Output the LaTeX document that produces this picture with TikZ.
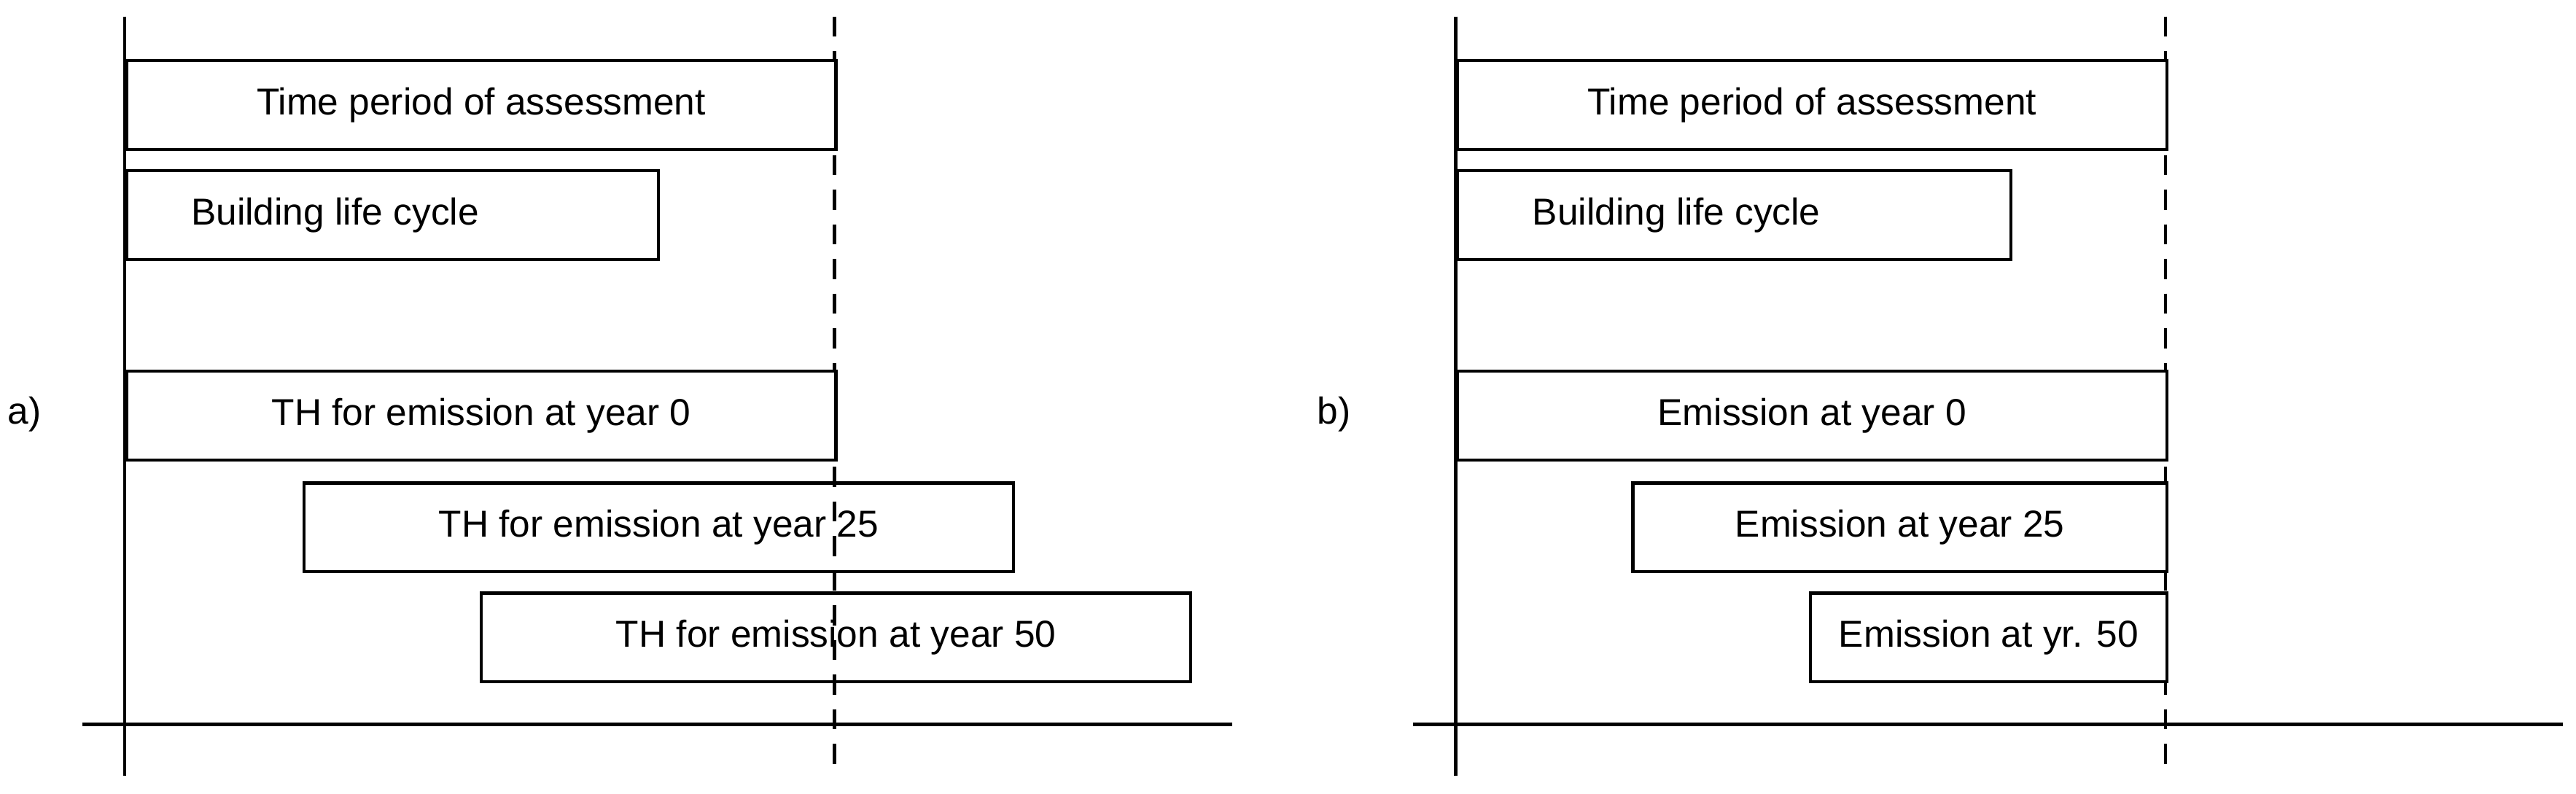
\documentclass[tikz,border=0pt]{standalone}
\usepackage{fontspec}
\setmainfont{Liberation Sans}
\begin{document}
\begin{tikzpicture}[x=0.02cm,y=-0.02cm,
  bar/.style={draw,line width=1.1pt,anchor=north west,minimum height=1.08cm,inner sep=0pt,font=\fontsize{13}{15}\selectfont},
  axis/.style={line width=1.1pt}]
\useasboundingbox (0,0) rectangle (1568,483);
% panel a
\coordinate (ya0) at (76,10);
\coordinate (ya1) at (76,472);
\coordinate (xa0) at (50,441);
\coordinate (xa1) at (750,441);
\coordinate (da0) at (508,10);
\coordinate (da1) at (508,472);
\draw [axis] (ya0) -- (ya1);
\draw [axis] (xa0) -- (xa1);
\draw [axis,dashed,dash pattern=on 7pt off 5pt] (da0) -- (da1);
\node (la) at (15,252) {\fontsize{13}{15}\selectfont a)};
\node (pa) [bar,minimum width=8.64cm,fill=white] at (76,36) {Time period of assessment};
\node (ba) [bar,minimum width=6.48cm] at (76,103) {\hspace{-1.4cm}Building life cycle};
\node (ea0) [bar,minimum width=8.64cm,fill=white] at (76,225) {TH for emission at year 0};
\node (ea25) [bar,minimum width=8.64cm] at (184,293) {TH for emission at year 25};
\node (ea50) [bar,minimum width=8.64cm] at (292,360) {TH for emission at year 50};
% panel b
\coordinate (yb0) at (886,10);
\coordinate (yb1) at (886,472);
\coordinate (xb0) at (860,441);
\coordinate (xb1) at (1560,441);
\coordinate (db0) at (1318,10);
\coordinate (db1) at (1318,472);
\draw [axis] (yb0) -- (yb1);
\draw [axis] (xb0) -- (xb1);
\draw [axis,dashed,dash pattern=on 7pt off 5pt] (db0) -- (db1);
\node (lb) at (812,252) {\fontsize{13}{15}\selectfont b)};
\node (pb) [bar,minimum width=8.64cm,fill=white] at (886,36) {Time period of assessment};
\node (bb) [bar,minimum width=6.74cm] at (886,103) {\hspace{-1.4cm}Building life cycle};
\node (eb0) [bar,minimum width=8.64cm,fill=white] at (886,225) {Emission at year 0};
\node (eb25) [bar,minimum width=6.5cm,fill=white] at (993,293) {Emission at year 25};
\node (eb50) [bar,minimum width=4.34cm,fill=white] at (1101,360) {Emission at yr. 50};
\end{tikzpicture}
\end{document}
